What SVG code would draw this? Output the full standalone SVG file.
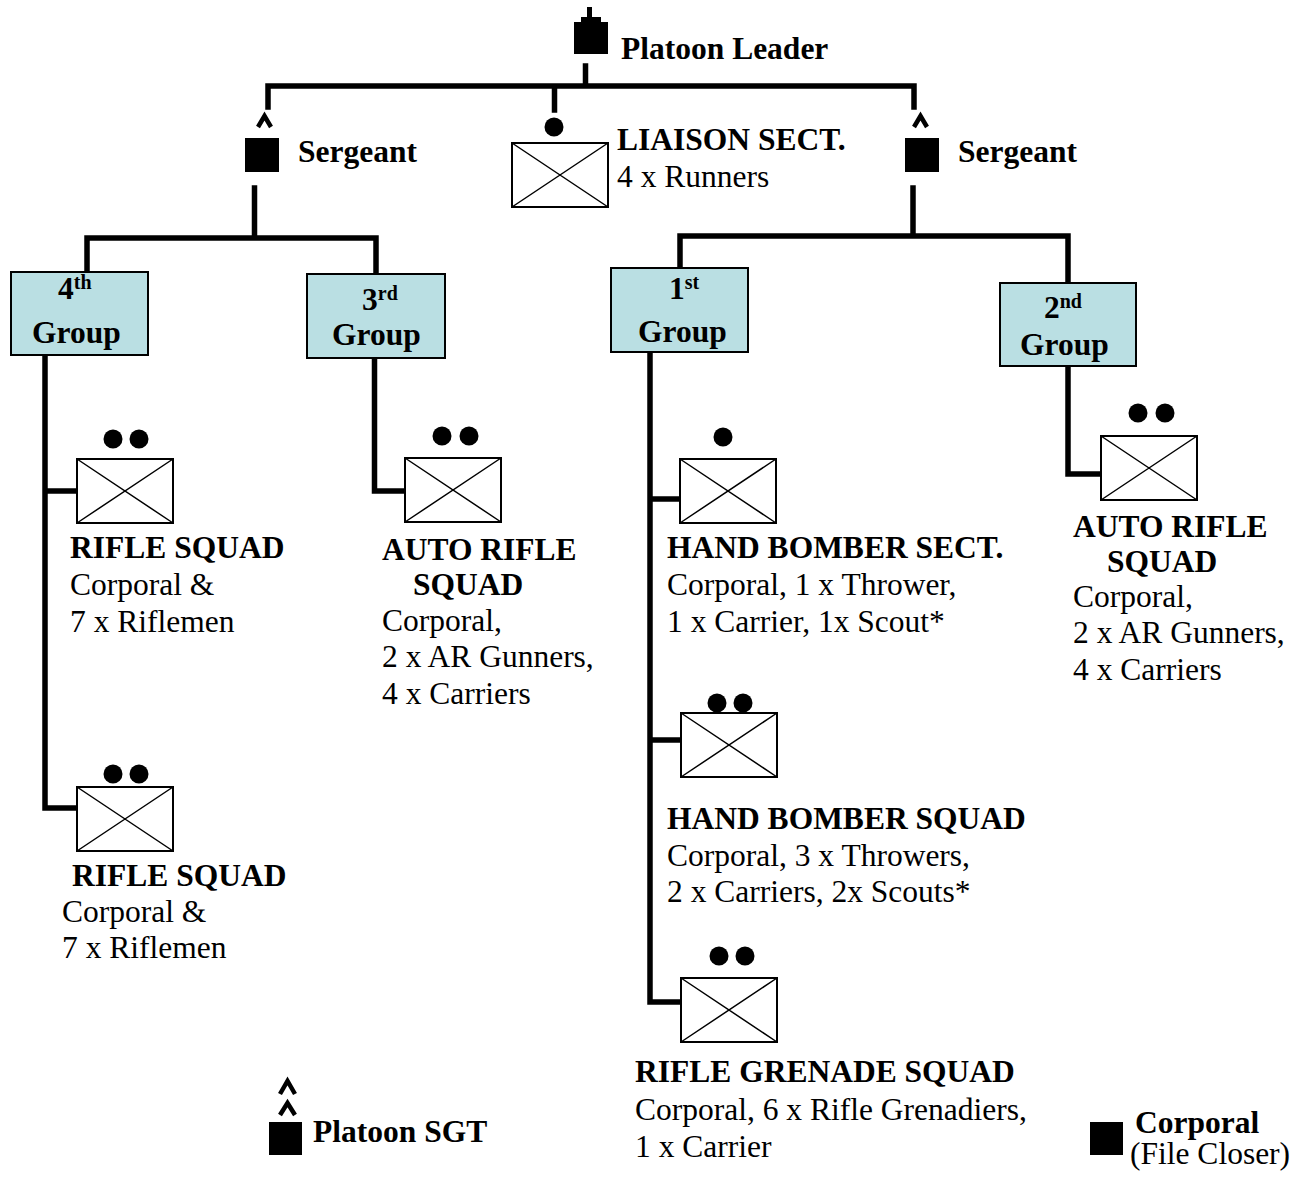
<svg xmlns="http://www.w3.org/2000/svg" width="1302" height="1178" viewBox="0 0 1302 1178">
<style>
text{font-family:"Liberation Serif","Times New Roman",serif;font-size:31.5px;fill:#000}
.b{font-weight:bold}
.sup{font-size:20px;font-weight:bold}
.grp{fill:#BADFE3;stroke:#000;stroke-width:2}
.unit{fill:#fff;stroke:#000;stroke-width:2}
.x{stroke:#000;stroke-width:1.5;fill:none}
.conn{stroke:#000;stroke-width:5.5;fill:none;stroke-linejoin:miter;stroke-linecap:square}
.chev{stroke:#000;stroke-width:4.5;fill:none;stroke-linejoin:miter;stroke-miterlimit:10}
</style>
<defs>
<g id="ux"><rect class="unit" x="0" y="0" width="96" height="64"/><path class="x" d="M0,0L96,64M96,0L0,64"/></g>
</defs>
<rect width="1302" height="1178" fill="#fff"/>
<g id="connectors">
<path class="conn" d="M585.5,66V86M268,107V86H914V107M554.5,86V110"/>
<path class="conn" d="M254.5,188V238M87,272V238H376V274"/>
<path class="conn" d="M913,188V236M680,268V236H1068V283"/>
<path class="conn" d="M45,355V808H77M45,491H76"/>
<path class="conn" d="M374.5,358V491H405"/>
<path class="conn" d="M650,352V1002H681M650,499H680M650,740H681"/>
<path class="conn" d="M1068,366V474H1101"/>
</g>
<g id="platoon-leader">
<rect x="587" y="7" width="5" height="11"/>
<rect x="581" y="17" width="20" height="6"/>
<rect x="574" y="22" width="34" height="32"/>
<text class="b" x="621" y="59">Platoon Leader</text>
</g>
<g id="sergeant-left">
<polyline class="chev" points="258,127 264.5,116 271,127"/>
<rect x="245" y="138" width="34" height="34"/>
<text class="b" x="298" y="162">Sergeant</text>
</g>
<g id="sergeant-right">
<polyline class="chev" points="914,127 920.5,116 927,127"/>
<rect x="905" y="138" width="34" height="34"/>
<text class="b" x="958" y="162">Sergeant</text>
</g>
<g id="liaison">
<circle cx="554" cy="127" r="9.5"/>
<use href="#ux" x="512" y="143"/>
<text class="b" x="617" y="150">LIAISON SECT.</text>
<text x="617" y="187">4 x Runners</text>
</g>
<g id="group4">
<rect class="grp" x="11" y="272" width="137" height="83"/>
<text class="b" x="58" y="299">4<tspan class="sup" dy="-10">th</tspan></text>
<text class="b" x="32" y="343">Group</text>
</g>
<g id="group3">
<rect class="grp" x="307" y="274" width="138" height="84"/>
<text class="b" x="362" y="310">3<tspan class="sup" dy="-10">rd</tspan></text>
<text class="b" x="332" y="345">Group</text>
</g>
<g id="group1">
<rect class="grp" x="611" y="268" width="137" height="84"/>
<text class="b" x="669" y="299">1<tspan class="sup" dy="-10">st</tspan></text>
<text class="b" x="638" y="342">Group</text>
</g>
<g id="group2">
<rect class="grp" x="1000" y="283" width="136" height="83"/>
<text class="b" x="1044" y="318">2<tspan class="sup" dy="-10">nd</tspan></text>
<text class="b" x="1020" y="355">Group</text>
</g>
<g id="rifle-squad-1">
<circle cx="113" cy="439" r="9.5"/><circle cx="139" cy="439" r="9.5"/>
<use href="#ux" x="77" y="459"/>
<text class="b" x="70" y="558">RIFLE SQUAD</text>
<text x="70" y="595">Corporal &amp;</text>
<text x="70" y="632">7 x Riflemen</text>
</g>
<g id="rifle-squad-2">
<circle cx="113" cy="774" r="9.5"/><circle cx="139" cy="774" r="9.5"/>
<use href="#ux" x="77" y="787"/>
<text class="b" x="72" y="886">RIFLE SQUAD</text>
<text x="62" y="922">Corporal &amp;</text>
<text x="62" y="958">7 x Riflemen</text>
</g>
<g id="auto-rifle-squad-3">
<circle cx="442" cy="436" r="9.5"/><circle cx="469" cy="436" r="9.5"/>
<use href="#ux" x="405" y="458"/>
<text class="b" x="382" y="560">AUTO RIFLE</text>
<text class="b" x="413" y="595">SQUAD</text>
<text x="382" y="631">Corporal,</text>
<text x="382" y="667">2 x AR Gunners,</text>
<text x="382" y="704">4 x Carriers</text>
</g>
<g id="hand-bomber-sect">
<circle cx="723" cy="437" r="9.5"/>
<use href="#ux" x="680" y="459"/>
<text class="b" x="667" y="558">HAND BOMBER SECT.</text>
<text x="667" y="595">Corporal, 1 x Thrower,</text>
<text x="667" y="632">1 x Carrier, 1x Scout*</text>
</g>
<g id="hand-bomber-squad">
<circle cx="717" cy="703" r="9.5"/><circle cx="743" cy="703" r="9.5"/>
<use href="#ux" x="681" y="713"/>
<text class="b" x="667" y="829">HAND BOMBER SQUAD</text>
<text x="667" y="866">Corporal, 3 x Throwers,</text>
<text x="667" y="902">2 x Carriers, 2x Scouts*</text>
</g>
<g id="rifle-grenade-squad">
<circle cx="719" cy="956" r="9.5"/><circle cx="745" cy="956" r="9.5"/>
<use href="#ux" x="681" y="978"/>
<text class="b" x="635" y="1082">RIFLE GRENADE SQUAD</text>
<text x="635" y="1120">Corporal, 6 x Rifle Grenadiers,</text>
<text x="635" y="1157">1 x Carrier</text>
</g>
<g id="auto-rifle-squad-2">
<circle cx="1138" cy="413" r="9.5"/><circle cx="1165" cy="413" r="9.5"/>
<use href="#ux" x="1101" y="436"/>
<text class="b" x="1073" y="537">AUTO RIFLE</text>
<text class="b" x="1107" y="572">SQUAD</text>
<text x="1073" y="607">Corporal,</text>
<text x="1073" y="643">2 x AR Gunners,</text>
<text x="1073" y="680">4 x Carriers</text>
</g>
<g id="legend-platoon-sgt">
<polyline class="chev" points="280,1094 287.5,1081 295,1094"/>
<polyline class="chev" points="280,1115 287.5,1103 295,1115"/>
<rect x="269" y="1122" width="33" height="33"/>
<text class="b" x="313" y="1142">Platoon SGT</text>
</g>
<g id="legend-corporal">
<rect x="1090" y="1122" width="33" height="33"/>
<text class="b" x="1135" y="1133" font-size="30">Corporal</text>
<text x="1130" y="1164" font-size="30">(File Closer)</text>
</g>
</svg>
